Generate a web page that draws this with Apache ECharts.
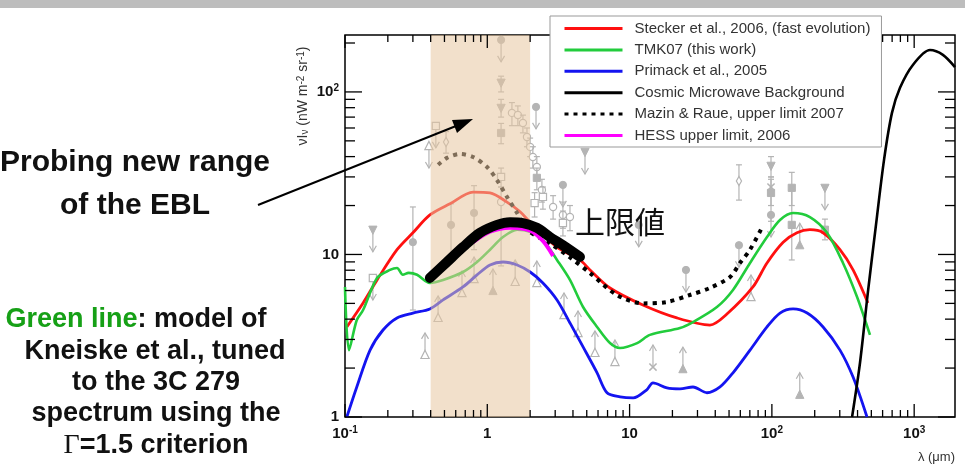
<!DOCTYPE html>
<html>
<head>
<meta charset="utf-8">
<script src="https://cdn.jsdelivr.net/npm/echarts@6/dist/echarts.min.js"></script>
<style>
  html, body { margin: 0; padding: 0; background: #fff; }
  #chart { width: 965px; height: 475px; }
</style>
</head>
<body>
<div id="chart"></div>
<script>
// 轴范围
const X_MIN = 0.1
const X_MAX = 1936
const Y_MIN = 1
const Y_MAX = 224

// 刻度
const xTickValues = [0.1, 1, 10, 100, 1000]
const xTickText = ['{b|10}{s|-1}', '{b|1}', '{b|10}', '{b|10}{s|2}', '{b|10}{s|3}']
const yTickValues = [1, 10, 100]
const yTickText = ['{b|1}', '{b|10}', '{b|10}{s|2}']
const minorMultipliers = [2, 3, 4, 5, 6, 7, 8, 9]
const xDecades = [0.1, 1, 10, 100, 1000]
const yDecades = [1, 10, 100]

// 阴影区间 (μm)
const bandRange = [0.4, 2]

// 模型曲线 [λ μm, νIν]
const stecker = [[0.103, 3.58], [0.134, 5.03], [0.168, 6.97], [0.232, 10.7], [0.30, 13.6], [0.395, 17.5], [0.547, 20.5], [0.794, 24.2], [1.045, 23.9], [1.375, 21.0], [1.70, 18.3], [2.0, 15.8], [3.09, 11.1], [4.48, 9.25], [5.27, 8.03], [7.28, 6.22], [12.4, 4.89], [21.5, 4.07], [36.7, 3.68], [48.3, 4.3], [73.6, 6.31], [92.4, 8.87], [120, 11.9], [150, 13.6], [185, 14.2], [229, 13.6], [301, 10.7], [372, 8.03], [473, 5.03]]
const tmk07 = [[0.100, 6.31], [0.1067, 2.58], [0.121, 3.95], [0.134, 4.55], [0.168, 7.17], [0.207, 8.03], [0.232, 8.26], [0.255, 7.5], [0.280, 7.7], [0.321, 7.5], [0.395, 6.68], [0.489, 6.97], [0.675, 7.80], [0.847, 8.99], [1.045, 10.7], [1.29, 12.8], [1.62, 14.2], [2.0, 13.8], [2.46, 12.3], [3.09, 9.25], [3.81, 6.97], [4.71, 4.75], [5.91, 3.58], [7.28, 2.85], [8.57, 2.66], [11.3, 2.85], [13.9, 3.20], [22.6, 3.53], [27.9, 3.84], [41.1, 4.75], [53.3, 6.05], [70.2, 8.87], [92.4, 12.8], [114, 16.3], [141, 18.0], [185, 17.0], [244, 13.6], [316, 8.87], [397, 5.47], [489, 3.20]]
const primack = [[0.103, 1.0], [0.121, 1.53], [0.150, 2.58], [0.185, 3.43], [0.232, 4.07], [0.30, 4.36], [0.395, 4.62], [0.489, 5.25], [0.675, 6.31], [0.847, 7.48], [1.045, 8.62], [1.29, 8.99], [1.62, 8.62], [2.0, 7.80], [2.46, 6.68], [3.09, 5.25], [3.81, 3.79], [4.71, 2.70], [5.91, 1.87], [6.94, 1.41], [8.57, 1.33], [10.6, 1.31], [13.2, 1.47], [14.6, 1.62], [18.3, 1.51], [22.6, 1.49], [27.9, 1.53], [35.0, 1.41], [43.2, 1.53], [53.3, 1.87], [70.2, 2.58], [92.4, 3.58], [114, 4.36], [141, 4.62], [177, 4.36], [229, 3.58], [301, 2.58], [372, 1.76], [466, 1.0]]
const cmb = [[366, 1.0], [416, 2.15], [473, 5.87], [539, 15.2], [614, 38.2], [698, 74.3], [795, 106], [982, 147], [1291, 181], [1592, 169], [1936, 142]]
const mazinRaue = [[0.451, 35.6], [0.521, 39.3], [0.643, 41.5], [0.794, 39.8], [0.996, 34.5], [1.17, 28.7], [1.375, 22.6], [1.62, 18.0], [1.90, 14.2], [2.76, 11.7], [3.81, 9.6], [5.27, 7.69], [8.15, 5.63], [12.4, 5.0], [18.3, 5.10], [26.5, 5.63], [36.7, 6.22], [50.8, 7.27], [59.7, 8.87], [70.2, 10.7], [85.1, 14.6]]
const hessLimit = [[0.794, 11.9], [1.045, 13.8], [1.445, 14.6], [2.0, 14.0], [2.46, 12.1], [2.90, 9.8]]
const upperLimitFit = [[0.395, 7.17], [0.521, 8.99], [0.675, 11.1], [0.889, 13.6], [1.17, 15.2], [1.445, 15.8], [1.78, 15.6], [2.23, 14.6], [2.76, 12.8], [3.40, 11.4], [4.48, 9.66]]

// 灰色观测点 [λ, 值, 下限, 上限, 符号]
const measurements = [
  [0.30, 11.9, 4.55, 19.6, 'circle'], [0.556, 15.2, 9.25, 20.5, 'circle'], [0.807, 18.0, 10.7, 26.5, 'circle'],
  [1.25, 114, 100, 125, 'triDown'], [1.25, 79.8, 70, 90, 'triDown'], [1.25, 55.9, 48, 64, 'square'],
  [1.25, 30.0, 26, 34, 'oSquare'], [1.25, 21.0, 8.5, 26, 'oCircle'], [0.513, 49.2, 42, 57, 'oDiamond'],
  [1.49, 74.3, 62, 86, 'oCircle'], [1.64, 72.1, 62, 82, 'oCircle'], [1.78, 64.4, 56, 72, 'oCircle'],
  [1.90, 52.8, 46, 60, 'oCircle'], [2.0, 45.9, 40, 52, 'oCircle'], [2.09, 39.8, 34, 46, 'oCircle'],
  [2.23, 34.5, 30, 40, 'oCircle'], [2.23, 29.6, 25, 34, 'square'], [2.42, 24.9, 21, 29, 'oCircle'],
  [2.15, 20.7, 17, 24, 'oSquare'], [2.46, 22.6, 19, 26, 'oSquare'], [2.90, 19.6, 16.5, 23, 'oCircle'],
  [3.40, 17.5, 14.5, 21, 'oCircle'], [3.81, 17.0, 14, 20, 'oCircle'], [3.40, 15.6, 13, 18.5, 'oSquare'],
  [58.7, 28.3, 21.6, 35.6, 'oDiamond'], [98.6, 35.1, 30, 40, 'triDown'], [98.6, 26.0, 20, 30, 'cross'],
  [98.6, 23.9, 16, 29, 'square'], [138, 25.7, 20, 32, 'square'], [138, 15.2, 9.25, 25, 'square'],
  [236, 14.2, 12.3, 16.5, 'square']
]
// 上限 (箭头向下) [λ, 值, 符号]
const upperLimits = [
  [1.25, 209, 'circle'], [0.389, 46.5, 'oTriangle'], [0.435, 61.8, 'oSquare'], [2.20, 80.9, 'circle'],
  [4.86, 42.7, 'triDown'], [0.157, 14.2, 'triDown'], [0.157, 7.17, 'oSquare'], [11.6, 15.2, 'circle'],
  [24.9, 8.03, 'circle'], [58.7, 11.4, 'circle'], [236, 25.7, 'triDown'], [3.40, 26.8, 'circle'],
  [98.6, 17.5, 'circle']
]
// 下限 (箭头向上) [λ, 值, 符号]
const lowerLimits = [
  [0.365, 2.41, 'oTriangle'], [0.451, 4.07, 'oTriangle'], [0.664, 5.79, 'oTriangle'], [0.807, 7.07, 'oTriangle'],
  [1.096, 5.96, 'triangle'], [1.57, 6.78, 'oTriangle'], [2.23, 6.68, 'oTriangle'], [3.46, 4.24, 'oTriangle'],
  [4.34, 3.29, 'oTriangle'], [5.71, 2.48, 'oTriangle'], [7.89, 2.18, 'oTriangle'], [14.6, 2.03, 'cross'],
  [23.7, 1.97, 'triangle'], [157, 1.37, 'triangle'], [71.3, 5.47, 'oTriangle'], [157, 11.4, 'triangle']
]

const seriesNames = ['Stecker et al., 2006, (fast evolution)', 'TMK07 (this work)', 'Primack et al., 2005', 'Cosmic Microwave Background', 'Mazin & Raue, upper limit 2007', 'HESS upper limit, 2006']

const GRAY = '#b4b4b4'
const FONT = '"Liberation Sans", Arial, sans-serif'

const chart = echarts.init(document.getElementById('chart'))

function tickLabel(values, texts) {
  return function (v) {
    const i = values.findIndex((t) => Math.abs(Math.log10(t) - Math.log10(v)) < 1e-6)
    return i < 0 ? '' : texts[i]
  }
}

function minorTicks(decades, max) {
  const out = []
  decades.forEach((d) => minorMultipliers.forEach((m) => { if (m * d < max) out.push(m * d) }))
  return out
}

// 四边的内向刻度
function tickSeries(values, axis, len) {
  return {
    type: 'custom',
    silent: true,
    z: 5,
    data: values.map((v) => (axis === 'x' ? [v, Y_MIN] : [X_MIN, v])),
    renderItem: function (params, api) {
      const style = { stroke: '#000', lineWidth: 1.3 }
      if (axis === 'x') {
        const v = api.value(0)
        const b = api.coord([v, Y_MIN])
        const t = api.coord([v, Y_MAX])
        return { type: 'group', children: [
          { type: 'line', shape: { x1: b[0], y1: b[1], x2: b[0], y2: b[1] - len }, style: style },
          { type: 'line', shape: { x1: t[0], y1: t[1], x2: t[0], y2: t[1] + len }, style: style }
        ] }
      }
      const v = api.value(1)
      const l = api.coord([X_MIN, v])
      const r = api.coord([X_MAX, v])
      return { type: 'group', children: [
        { type: 'line', shape: { x1: l[0], y1: l[1], x2: l[0] + len, y2: l[1] }, style: style },
        { type: 'line', shape: { x1: r[0], y1: r[1], x2: r[0] - len, y2: r[1] }, style: style }
      ] }
    }
  }
}

function markerShape(sym, x, y) {
  const s = 3.6
  const filled = { fill: GRAY, stroke: GRAY, lineWidth: 1 }
  const open = { fill: '#fff', stroke: GRAY, lineWidth: 1.2 }
  switch (sym) {
    case 'circle': return { type: 'circle', shape: { cx: x, cy: y, r: s }, style: filled }
    case 'oCircle': return { type: 'circle', shape: { cx: x, cy: y, r: s }, style: open }
    case 'square': return { type: 'rect', shape: { x: x - s, y: y - s, width: 2 * s, height: 2 * s }, style: filled }
    case 'oSquare': return { type: 'rect', shape: { x: x - s, y: y - s, width: 2 * s, height: 2 * s }, style: open }
    case 'triangle': return { type: 'polygon', shape: { points: [[x, y - s - 1], [x - s - 0.5, y + s], [x + s + 0.5, y + s]] }, style: filled }
    case 'oTriangle': return { type: 'polygon', shape: { points: [[x, y - s - 1], [x - s - 0.5, y + s], [x + s + 0.5, y + s]] }, style: open }
    case 'triDown': return { type: 'polygon', shape: { points: [[x, y + s + 1], [x - s - 0.5, y - s], [x + s + 0.5, y - s]] }, style: filled }
    case 'oDiamond': return { type: 'polygon', shape: { points: [[x, y - s - 1], [x + s - 1, y], [x, y + s + 1], [x - s + 1, y]] }, style: open }
    case 'cross': return { type: 'group', children: [
      { type: 'line', shape: { x1: x - s, y1: y - s, x2: x + s, y2: y + s }, style: { stroke: GRAY, lineWidth: 1.5 } },
      { type: 'line', shape: { x1: x - s, y1: y + s, x2: x + s, y2: y - s }, style: { stroke: GRAY, lineWidth: 1.5 } }
    ] }
  }
}

function limitSeries(list, dir) {
  return {
    type: 'custom',
    silent: true,
    z: 1,
    data: list.map((p) => [p[0], p[1]]),
    renderItem: function (params, api) {
      const c = api.coord([api.value(0), api.value(1)])
      const len = 22 * dir
      const tipY = c[1] + len
      const lineStyle = { stroke: GRAY, lineWidth: 1.2, fill: null }
      return { type: 'group', children: [
        { type: 'line', shape: { x1: c[0], y1: c[1], x2: c[0], y2: tipY }, style: lineStyle },
        { type: 'polyline', shape: { points: [[c[0] - 3.5, tipY - 6 * dir], [c[0], tipY], [c[0] + 3.5, tipY - 6 * dir]] }, style: lineStyle },
        markerShape(list[params.dataIndex][2], c[0], c[1])
      ] }
    }
  }
}

function curve(name, data, color, width, extra) {
  return Object.assign({
    name: name,
    type: 'line',
    data: data,
    symbol: 'none',
    showSymbol: false,
    smooth: 0.3,
    silent: true,
    z: 2,
    itemStyle: { color: color },
    lineStyle: { color: color, width: width }
  }, extra || {})
}

const axisRich = {
  b: { fontFamily: FONT, fontSize: 15, fontWeight: 'bold', color: '#111', lineHeight: 18 },
  s: { fontFamily: FONT, fontSize: 10, fontWeight: 'bold', color: '#111', verticalAlign: 'top', lineHeight: 10 }
}

const option = {
  animation: false,
  backgroundColor: '#fff',
  grid: {
    left: 345, right: 10, top: 35, bottom: 58,
    show: true, borderColor: '#000', borderWidth: 1.5, backgroundColor: 'transparent',
    outerBoundsMode: 'none'
  },
  xAxis: {
    type: 'log', logBase: 10, min: X_MIN, max: X_MAX,
    axisLine: { show: false }, axisTick: { show: false }, splitLine: { show: false },
    axisLabel: { margin: 8, formatter: tickLabel(xTickValues, xTickText), rich: axisRich }
  },
  yAxis: {
    type: 'log', logBase: 10, min: Y_MIN, max: Y_MAX,
    axisLine: { show: false }, axisTick: { show: false }, splitLine: { show: false },
    axisLabel: { margin: 6, formatter: tickLabel(yTickValues, yTickText), rich: axisRich }
  },
  legend: {
    orient: 'vertical', left: 550, top: 16, z: 20,
    data: seriesNames,
    itemWidth: 58, itemHeight: 15, itemGap: 6.4,
    padding: [5, 11, 4, 13],
    itemStyle: { opacity: 0 },
    lineStyle: { width: 3 },
    backgroundColor: '#fff', borderColor: '#999', borderWidth: 1,
    textStyle: { fontFamily: FONT, fontSize: 15, color: '#333', padding: [0, 0, 0, 7] }
  },
  series: [
    // 灰色观测点
    {
      type: 'custom', silent: true, z: 1,
      data: measurements.map((m) => [m[0], m[1], m[2], m[3]]),
      renderItem: function (params, api) {
        const c = api.coord([api.value(0), api.value(1)])
        const lo = api.coord([api.value(0), api.value(2)])
        const hi = api.coord([api.value(0), api.value(3)])
        const st = { stroke: GRAY, lineWidth: 1.2 }
        return { type: 'group', children: [
          { type: 'line', shape: { x1: c[0], y1: lo[1], x2: c[0], y2: hi[1] }, style: st },
          { type: 'line', shape: { x1: c[0] - 3, y1: lo[1], x2: c[0] + 3, y2: lo[1] }, style: st },
          { type: 'line', shape: { x1: c[0] - 3, y1: hi[1], x2: c[0] + 3, y2: hi[1] }, style: st },
          markerShape(measurements[params.dataIndex][4], c[0], c[1])
        ] }
      }
    },
    limitSeries(upperLimits, 1),
    limitSeries(lowerLimits, -1),
    curve(seriesNames[0], stecker, '#ff1010', 2.8),
    curve(seriesNames[1], tmk07, '#22cc3c', 2.6),
    curve(seriesNames[2], primack, '#1414f0', 2.8),
    curve(seriesNames[3], cmb, '#000', 2.6),
    curve(seriesNames[4], mazinRaue, '#000', 4, { lineStyle: { color: '#000', width: 4, type: [4, 5], cap: 'butt' } }),
    // 米色区间
    {
      type: 'custom', silent: true, z: 3,
      data: [[bandRange[0], Y_MIN]],
      renderItem: function (params, api) {
        const a = api.coord([bandRange[0], Y_MAX])
        const b = api.coord([bandRange[1], Y_MIN])
        return { type: 'rect', shape: { x: a[0], y: a[1], width: b[0] - a[0], height: b[1] - a[1] }, style: { fill: 'rgba(231,199,161,0.55)' } }
      }
    },
    curve(seriesNames[5], hessLimit, '#ff00ff', 4, { z: 4 }),
    curve('上限値', upperLimitFit, '#000', 10, { z: 4, lineStyle: { color: '#000', width: 10, cap: 'round' } }),
    tickSeries(xTickValues, 'x', 13),
    tickSeries(minorTicks(xDecades, X_MAX), 'x', 7),
    tickSeries(yTickValues, 'y', 17),
    tickSeries(minorTicks(yDecades, Y_MAX), 'y', 10)
  ],
  graphic: [
    { type: 'rect', shape: { x: 0, y: 0, width: 965, height: 8 }, style: { fill: '#bdbdbd' } },
    { type: 'text', x: 135, y: 163, style: { text: 'Probing new range', font: 'bold 30px ' + FONT, fill: '#111', align: 'center', verticalAlign: 'middle', textAlign: 'center', textVerticalAlign: 'middle' } },
    { type: 'text', x: 135, y: 206, style: { text: 'of the EBL', font: 'bold 30px ' + FONT, fill: '#111', align: 'center', verticalAlign: 'middle', textAlign: 'center', textVerticalAlign: 'middle' } },
    { type: 'text', x: 136, y: 320, style: { text: '{g|Green line}: model of', font: 'bold 27px ' + FONT, fill: '#111', align: 'center', verticalAlign: 'middle', textAlign: 'center', textVerticalAlign: 'middle', rich: { g: { fill: '#16a016', font: 'bold 27px ' + FONT } } } },
    { type: 'text', x: 155, y: 352, style: { text: 'Kneiske et al., tuned', font: 'bold 27px ' + FONT, fill: '#111', align: 'center', verticalAlign: 'middle', textAlign: 'center', textVerticalAlign: 'middle' } },
    { type: 'text', x: 156, y: 383, style: { text: 'to the 3C 279', font: 'bold 27px ' + FONT, fill: '#111', align: 'center', verticalAlign: 'middle', textAlign: 'center', textVerticalAlign: 'middle' } },
    { type: 'text', x: 156, y: 414, style: { text: 'spectrum using the', font: 'bold 27px ' + FONT, fill: '#111', align: 'center', verticalAlign: 'middle', textAlign: 'center', textVerticalAlign: 'middle' } },
    { type: 'text', x: 156, y: 446, style: { text: '{gm|Γ}=1.5 criterion', font: 'bold 27px ' + FONT, fill: '#111', align: 'center', verticalAlign: 'middle', textAlign: 'center', textVerticalAlign: 'middle', rich: { gm: { font: '28px "Liberation Serif", serif', fill: '#111' } } } },
    { type: 'text', x: 575, y: 222, z: 30, style: { text: '上限値', font: '30px "Noto Sans CJK JP", sans-serif', fill: '#111', align: 'left', verticalAlign: 'middle', textAlign: 'left', textVerticalAlign: 'middle' } },
    { type: 'text', x: 303, y: 96, rotation: Math.PI / 2, style: { text: 'νI{sb|ν} (nW m{sp|-2} sr{sp|-1})', font: '14px ' + FONT, fill: '#333', align: 'center', verticalAlign: 'middle', textAlign: 'center', textVerticalAlign: 'middle', rich: { sb: { font: '10px ' + FONT, fill: '#333', verticalAlign: 'bottom' }, sp: { font: '10px ' + FONT, fill: '#333', verticalAlign: 'top' } } } },
    { type: 'text', x: 955, y: 457, style: { text: 'λ (μm)', font: '13px ' + FONT, fill: '#333', align: 'right', verticalAlign: 'middle', textAlign: 'right', textVerticalAlign: 'middle' } },
    { type: 'line', z: 30, shape: { x1: 258, y1: 205, x2: 456, y2: 126 }, style: { stroke: '#000', lineWidth: 2 } },
    { type: 'polygon', z: 30, shape: { points: [[473, 119], [457, 133], [452, 120]] }, style: { fill: '#000' } }
  ]
}

chart.setOption(option)
</script>
</body>
</html>
